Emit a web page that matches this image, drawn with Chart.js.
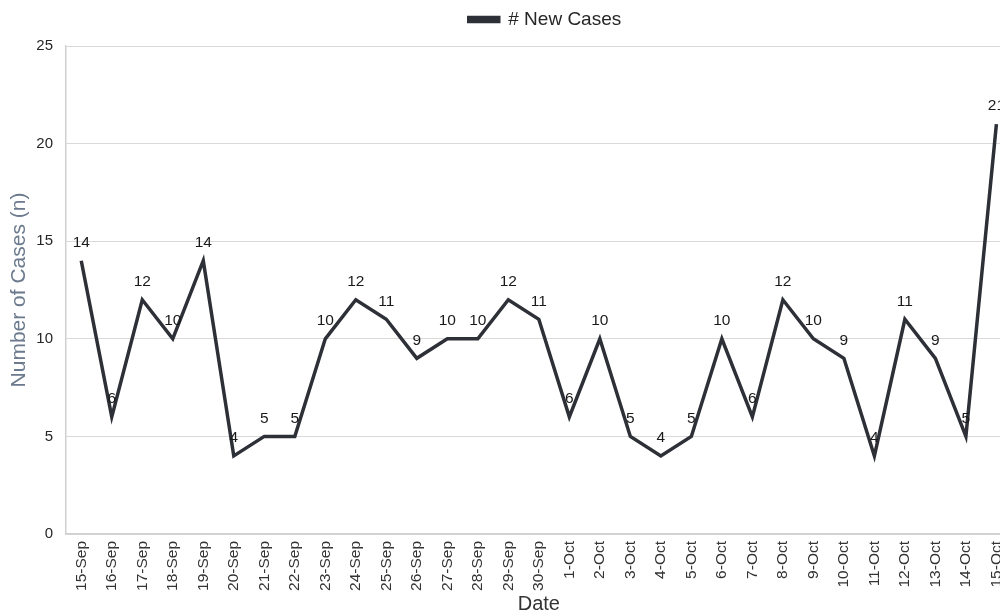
<!DOCTYPE html>
<html>
<head>
<meta charset="utf-8">
<script src="https://cdn.jsdelivr.net/npm/chart.js@4/dist/chart.umd.min.js"></script>
<style>
  html, body { margin: 0; padding: 0; background: #ffffff; overflow: hidden; }
  #wrap { width: 1000px; height: 613px; overflow: hidden; }
  canvas { display: block; }
</style>
</head>
<body>
<div id="wrap"><canvas id="c" width="1022" height="613"></canvas></div>
<script>
// Daily new cases, 15 September to 15 October
const dates = [
  '15-Sep', '16-Sep', '17-Sep', '18-Sep', '19-Sep', '20-Sep', '21-Sep', '22-Sep',
  '23-Sep', '24-Sep', '25-Sep', '26-Sep', '27-Sep', '28-Sep', '29-Sep', '30-Sep',
  '1-Oct', '2-Oct', '3-Oct', '4-Oct', '5-Oct', '6-Oct', '7-Oct', '8-Oct',
  '9-Oct', '10-Oct', '11-Oct', '12-Oct', '13-Oct', '14-Oct', '15-Oct'
];
const newCases = [
  14, 6, 12, 10, 14, 4, 5, 5,
  10, 12, 11, 9, 10, 10, 12, 11,
  6, 10, 5, 4, 5, 10, 6, 12,
  10, 9, 4, 11, 9, 5, 21
];
const seriesName = '# New Cases';
const yTitle = 'Number of Cases (n)';
const xTitle = 'Date';

const FONT = "'Liberation Sans', Arial, sans-serif";
const LINE_COLOR = '#2e3038';

// Writes each point's value just above it
const valueLabels = {
  id: 'valueLabels',
  afterDatasetsDraw(chart) {
    const ctx = chart.ctx;
    const meta = chart.getDatasetMeta(0);
    const values = chart.data.datasets[0].data;
    ctx.save();
    ctx.font = '15.5px ' + FONT;
    ctx.fillStyle = '#1a1a1a';
    ctx.textAlign = 'center';
    ctx.textBaseline = 'middle';
    meta.data.forEach((pt, i) => {
      ctx.fillText(String(values[i]), pt.x, pt.y - 18);
    });
    ctx.restore();
  }
};

// Moves the legend right of the canvas centre and a little up
const legendShift = {
  id: 'legendShift',
  afterLayout(chart) {
    const lg = chart.legend;
    if (lg) {
      lg.left += 34; lg.right += 34;
      lg.top -= 7; lg.bottom -= 7;
    }
  }
};

new Chart(document.getElementById('c'), {
  type: 'line',
  data: {
    labels: dates,
    datasets: [{
      label: seriesName,
      data: newCases,
      borderColor: LINE_COLOR,
      backgroundColor: LINE_COLOR,
      borderWidth: 3.5,
      pointRadius: 0,
      pointHoverRadius: 0,
      tension: 0,
      fill: false
    }]
  },
  options: {
    responsive: false,
    animation: false,
    events: [],
    layout: { padding: { top: 1, right: 0, bottom: 0, left: 0 } },
    plugins: {
      legend: {
        display: true,
        position: 'top',
        align: 'center',
        labels: {
          boxWidth: 30,
          boxHeight: 4,
          padding: 16,
          color: '#262626',
          font: { family: FONT, size: 19 }
        }
      },
      tooltip: { enabled: false }
    },
    scales: {
      x: {
        offset: true,
        afterFit(scale) { scale.height = 79; },
        grid: { display: false, drawTicks: false },
        border: { display: true, color: '#d0d0d0', width: 1.5 },
        ticks: {
          autoSkip: false,
          maxRotation: 90,
          minRotation: 90,
          padding: 7,
          color: '#333333',
          font: { family: FONT, size: 15.5 }
        },
        title: {
          display: true,
          text: xTitle,
          color: '#333333',
          font: { family: FONT, size: 20 },
          padding: { top: 0, bottom: -3 }
        }
      },
      y: {
        min: 0,
        max: 25,
        afterFit(scale) { scale.width = 66; },
        grid: { color: '#d9d9d9', lineWidth: 1, drawTicks: false },
        border: { display: true, color: '#d0d0d0', width: 1.5 },
        ticks: {
          stepSize: 5,
          padding: 13,
          color: '#262626',
          font: { family: FONT, size: 15 }
        },
        title: {
          display: true,
          text: yTitle,
          color: '#6b7a8c',
          font: { family: FONT, size: 21 },
          padding: { top: 7, bottom: 0 }
        }
      }
    }
  },
  plugins: [valueLabels, legendShift]
});
</script>
</body>
</html>
